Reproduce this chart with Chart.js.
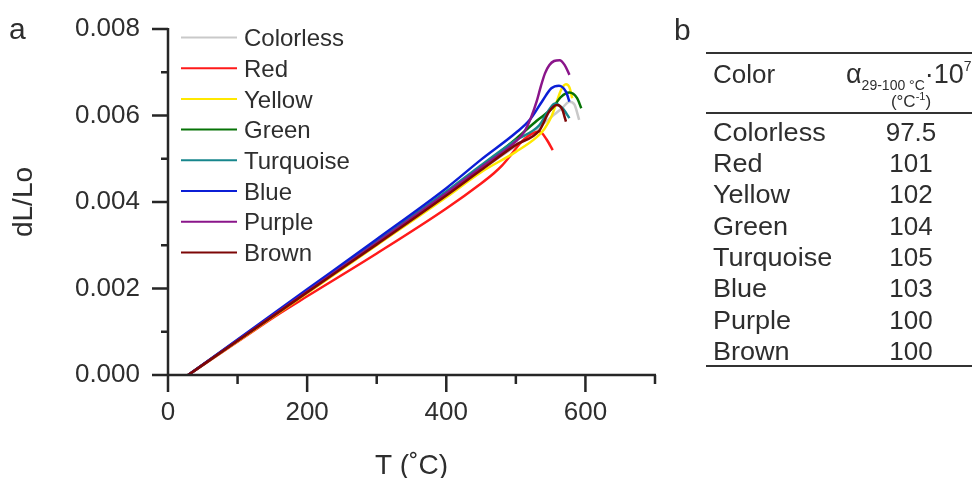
<!DOCTYPE html>
<html>
<head>
<meta charset="utf-8">
<script src="https://cdn.jsdelivr.net/npm/chart.js@4/dist/chart.umd.min.js"></script>
<style>
  html, body { margin: 0; padding: 0; background: #fff; }
  #wrap { position: relative; width: 973px; height: 478px; overflow: hidden; }
  #chartBox { position: absolute; left: 0; top: 0; width: 680px; height: 478px; }
  #overlay { position: absolute; left: 0; top: 0; pointer-events: none; }
  text { font-family: 'Liberation Sans', Arial, sans-serif; fill: #2e2e2e; }
</style>
</head>
<body>
<div id="wrap">
  <div id="chartBox"><canvas id="c" width="680" height="478"></canvas></div>
  <svg id="overlay" width="973" height="478" xmlns="http://www.w3.org/2000/svg"></svg>
</div>
<script>
// ---------------- data ----------------
const seriesNames = ['Colorless', 'Red', 'Yellow', 'Green', 'Turquoise', 'Blue', 'Purple', 'Brown'];
const seriesColors = ['#c9c9c9', '#ff1a1a', '#ffe800', '#067306', '#17868c', '#0b1ed6', '#8a158a', '#7d0606'];

const colorlessT = [29, 100, 200, 300, 400, 450, 500, 530, 555, 567, 577, 584, 591];
const colorlessV = [0, 0.00079, 0.00191, 0.00303, 0.00416, 0.00474, 0.00530, 0.00568, 0.00602, 0.00618, 0.00632, 0.00626, 0.00590];

const redT = [29, 100, 161, 200, 300, 400, 450, 468, 480, 493, 507, 522, 534, 544, 553];
const redV = [0, 0.00077, 0.00143, 0.00182, 0.00281, 0.00385, 0.00443, 0.00466, 0.00484, 0.00509, 0.00537, 0.00557, 0.00563, 0.00545, 0.00520];

const yellowT = [29, 100, 200, 300, 400, 450, 500, 530, 541, 551, 558, 565, 572, 577, 581];
const yellowV = [0, 0.00078, 0.00189, 0.00300, 0.00411, 0.00469, 0.00516, 0.00550, 0.00569, 0.00597, 0.00628, 0.00659, 0.00672, 0.00665, 0.00640];

const greenT = [29, 100, 200, 300, 400, 450, 500, 530, 553, 565, 577, 588, 594];
const greenV = [0, 0.00080, 0.00194, 0.00307, 0.00421, 0.00481, 0.00546, 0.00588, 0.00618, 0.00643, 0.00653, 0.00640, 0.00617];

const turquoiseT = [29, 100, 200, 300, 400, 450, 500, 534, 546, 556, 567, 577];
const turquoiseV = [0, 0.00081, 0.00195, 0.00309, 0.00424, 0.00485, 0.00543, 0.00578, 0.00609, 0.00628, 0.00617, 0.00594];

const blueT = [29, 100, 200, 300, 400, 450, 500, 520, 539, 551, 562, 572, 577];
const blueV = [0, 0.00082, 0.00198, 0.00314, 0.00432, 0.00498, 0.00560, 0.00590, 0.00636, 0.00663, 0.00669, 0.00655, 0.00632];

const purpleT = [29, 100, 200, 300, 400, 450, 500, 512, 522, 530, 536, 542, 548, 555, 563, 570, 577];
const purpleV = [0, 0.00080, 0.00193, 0.00306, 0.00420, 0.00480, 0.00540, 0.00562, 0.00596, 0.00633, 0.00668, 0.00698, 0.00716, 0.00726, 0.00728, 0.00717, 0.00694];

const brownT = [29, 100, 200, 300, 400, 450, 500, 534, 548, 559, 567, 570, 572];
const brownV = [0, 0.00079, 0.00191, 0.00302, 0.00415, 0.00474, 0.00532, 0.00566, 0.00609, 0.00624, 0.00613, 0.00597, 0.00586];

const xTickValues = [0, 200, 400, 600];
const xTickLabels = ['0', '200', '400', '600'];
const xMinorValues = [100, 300, 500, 700];
const yTickValues = [0, 0.002, 0.004, 0.006, 0.008];
const yTickLabels = ['0.000', '0.002', '0.004', '0.006', '0.008'];
const yMinorValues = [0.001, 0.003, 0.005, 0.007];

const tableColors = ['Colorless', 'Red', 'Yellow', 'Green', 'Turquoise', 'Blue', 'Purple', 'Brown'];
const tableAlpha = ['97.5', '101', '102', '104', '105', '103', '100', '100'];

// ---------------- chart ----------------
const seriesT = [colorlessT, redT, yellowT, greenT, turquoiseT, blueT, purpleT, brownT];
const seriesV = [colorlessV, redV, yellowV, greenV, turquoiseV, blueV, purpleV, brownV];

const datasets = seriesNames.map((name, i) => ({
  label: name,
  data: seriesT[i].map((t, k) => ({ x: t, y: seriesV[i][k] })),
  borderColor: seriesColors[i],
  backgroundColor: seriesColors[i],
  borderWidth: 2.5,
  pointRadius: 0,
  fill: false,
  cubicInterpolationMode: 'monotone',
  order: seriesNames.length - i
}));

const AXIS_COLOR = '#262626';
const FONT = "'Liberation Sans', Arial, sans-serif";

const axisMarks = {
  id: 'axisMarks',
  afterDraw(chart) {
    const { ctx, scales: { x, y } } = chart;
    const x0 = x.getPixelForValue(0);
    const y0 = y.getPixelForValue(0);
    ctx.save();
    ctx.strokeStyle = AXIS_COLOR;
    ctx.lineWidth = 2.5;
    ctx.lineCap = 'butt';
    ctx.beginPath();
    ctx.moveTo(x0, y.getPixelForValue(0.008) - 1);
    ctx.lineTo(x0, y0 + 17);
    ctx.moveTo(x0 - 16, y0);
    ctx.lineTo(x.getPixelForValue(700) + 1, y0);
    xTickValues.forEach(v => { const p = x.getPixelForValue(v); ctx.moveTo(p, y0); ctx.lineTo(p, y0 + 17); });
    xMinorValues.forEach(v => { const p = x.getPixelForValue(v); ctx.moveTo(p, y0); ctx.lineTo(p, y0 + 9); });
    yTickValues.forEach(v => { const p = y.getPixelForValue(v); ctx.moveTo(x0, p); ctx.lineTo(x0 - 16, p); });
    yMinorValues.forEach(v => { const p = y.getPixelForValue(v); ctx.moveTo(x0, p); ctx.lineTo(x0 - 7, p); });
    ctx.stroke();
    ctx.restore();
  }
};

new Chart(document.getElementById('c'), {
  type: 'line',
  data: { datasets },
  plugins: [axisMarks],
  options: {
    responsive: false,
    devicePixelRatio: 1,
    animation: false,
    layout: { padding: { top: 29, right: 25, bottom: 0, left: 0 } },
    plugins: { legend: { display: false }, tooltip: { enabled: false } },
    scales: {
      x: {
        type: 'linear', min: 0, max: 700,
        grid: { display: false, drawTicks: false },
        border: { display: false },
        afterBuildTicks: s => { s.ticks = xTickValues.map(v => ({ value: v })); },
        afterFit: s => { s.height = 103; s.paddingLeft = 0; s.paddingRight = 0; },
        ticks: {
          padding: 22, color: '#2e2e2e', font: { family: FONT, size: 26 },
          maxRotation: 0, autoSkip: false,
          callback: v => xTickLabels[xTickValues.indexOf(v)]
        },
        title: { display: true, text: 'T (˚C)', color: '#2e2e2e', font: { family: FONT, size: 28, lineHeight: 1 }, padding: { top: 0, bottom: -2 } }
      },
      y: {
        type: 'linear', min: 0, max: 0.008,
        grid: { display: false, drawTicks: false },
        border: { display: false },
        afterBuildTicks: s => { s.ticks = yTickValues.map(v => ({ value: v })); },
        afterFit: s => { s.width = 168; s.paddingTop = 0; s.paddingBottom = 0; },
        ticks: {
          padding: 28, color: '#2e2e2e', font: { family: FONT, size: 26 },
          autoSkip: false,
          callback: v => yTickLabels[yTickValues.findIndex(t => Math.abs(t - v) < 1e-9)]
        },
        title: { display: true, text: 'dL/Lo', color: '#2e2e2e', font: { family: FONT, size: 28, lineHeight: 1 }, padding: { top: 10, bottom: 0 } }
      }
    }
  }
});

// ---------------- overlay: panel letters, legend, table ----------------
const NS = 'http://www.w3.org/2000/svg';
const svg = document.getElementById('overlay');
function el(tag, attrs, text) {
  const e = document.createElementNS(NS, tag);
  for (const k in attrs) e.setAttribute(k, attrs[k]);
  if (text !== undefined) e.textContent = text;
  svg.appendChild(e);
  return e;
}

el('text', { x: 9, y: 39, 'font-size': 30 }, 'a');
el('text', { x: 674, y: 40, 'font-size': 30 }, 'b');

// legend
seriesNames.forEach((name, i) => {
  const cy = 37.5 + 30.7 * i;
  el('line', { x1: 181, x2: 237, y1: cy, y2: cy, stroke: seriesColors[i], 'stroke-width': 2 });
  el('text', { x: 244, y: cy + 8.6, 'font-size': 24 }, name);
});

// table rules
[53, 113, 366].forEach(yy => el('line', { x1: 706, x2: 972, y1: yy, y2: yy, stroke: '#333', 'stroke-width': 2 }));

// header
el('text', { x: 713, y: 83, 'font-size': 26 }, 'Color');
const h = el('text', { x: 846, y: 83, 'font-size': 27 });
h.innerHTML = 'α<tspan font-size="14" dy="7">29-100 °C</tspan><tspan font-size="27" dy="-7">·10</tspan><tspan font-size="14" dy="-12">7</tspan>';
const u = el('text', { x: 911, y: 107, 'font-size': 17, 'text-anchor': 'middle' });
u.innerHTML = '(°C<tspan font-size="11" dy="-7">-1</tspan><tspan dy="7">)</tspan>';

// rows
tableColors.forEach((name, i) => {
  const by = 140.7 + 31.33 * i;
  el('text', { transform: `translate(713,${by}) scale(1.04,1)`, 'font-size': 26 }, name);
  el('text', { x: 911, y: by, 'font-size': 26, 'text-anchor': 'middle' }, tableAlpha[i]);
});
</script>
</body>
</html>
